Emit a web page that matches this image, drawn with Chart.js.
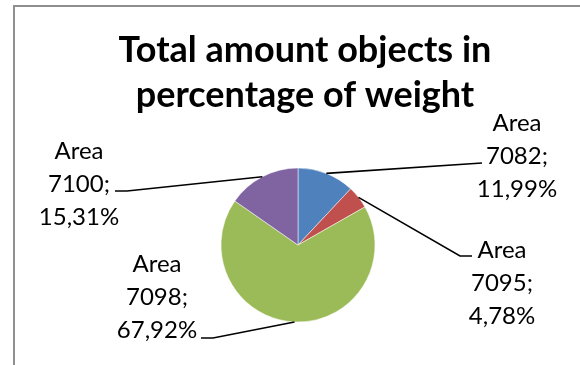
<!DOCTYPE html>
<html>
<head>
<meta charset="utf-8">
<script src="https://cdn.jsdelivr.net/npm/chart.js@4.4.1/dist/chart.umd.min.js"></script>
<style>
  html, body { margin: 0; padding: 0; background: #fff; }
  #wrap { position: relative; width: 580px; height: 365px; }
</style>
</head>
<body>
<div id="wrap"><canvas id="pie"></canvas></div>
<script>
// area numbers and their share of the total weight (%)
const areas = ["7082", "7095", "7098", "7100"];
const weightPct = [11.99, 4.78, 67.92, 15.31];
const sliceColors = ["#4f81bd", "#c0504d", "#9bbb59", "#8064a2"];
const titleLines = ["Total amount objects in", "percentage of weight"];

// label blocks: centre x, y of first line, leader end + optional short tail
const labelSpots = [
  { x: 517, y: 123, end: [482, 163], tail: null },
  { x: 502, y: 250, end: [460, 256], tail: [472, 256] },
  { x: 157, y: 264, end: [213, 338], tail: [201, 338] },
  { x: 79,  y: 151, end: [127, 191], tail: [115, 191] },
];

const FONT = "Lato, 'Open Sans', sans-serif";
const LINE_GAP = 33;

const fmtPct = (v) => v.toFixed(2).replace(".", ",") + "%";

const decorations = {
  id: "decorations",
  afterDraw(chart) {
    const ctx = chart.ctx;
    ctx.save();

    // chart frame (only top and left edges fall inside the canvas)
    ctx.strokeStyle = "#8f8f8f";
    ctx.lineWidth = 2;
    ctx.beginPath();
    ctx.moveTo(14, 366);
    ctx.lineTo(14, 6);
    ctx.lineTo(581, 6);
    ctx.stroke();

    // title
    ctx.fillStyle = "#000";
    ctx.textAlign = "center";
    ctx.textBaseline = "middle";
    ctx.font = "bold 36px " + FONT;
    ctx.fillText(titleLines[0], 305, 50);
    ctx.fillText(titleLines[1], 305, 95);

    // leader lines from slice edge to each label
    const meta = chart.getDatasetMeta(0);
    ctx.strokeStyle = "#000";
    ctx.lineWidth = 1.6;
    meta.data.forEach((arc, i) => {
      const spot = labelSpots[i];
      const mid = (arc.startAngle + arc.endAngle) / 2;
      const r = arc.outerRadius;
      ctx.beginPath();
      ctx.moveTo(arc.x + Math.cos(mid) * r, arc.y + Math.sin(mid) * r);
      ctx.lineTo(spot.end[0], spot.end[1]);
      if (spot.tail) ctx.lineTo(spot.tail[0], spot.tail[1]);
      ctx.stroke();
    });

    // data labels
    ctx.font = "24px " + FONT;
    areas.forEach((a, i) => {
      const spot = labelSpots[i];
      const lines = ["Area", a + ";", fmtPct(weightPct[i])];
      lines.forEach((t, k) => ctx.fillText(t, spot.x, spot.y + k * LINE_GAP));
    });

    ctx.restore();
  },
};

new Chart(document.getElementById("pie"), {
  type: "pie",
  data: {
    labels: areas.map((a) => "Area " + a),
    datasets: [
      {
        data: weightPct,
        backgroundColor: sliceColors,
        borderColor: "#ffffff",
        borderWidth: 0.5,
        radius: 77,
      },
    ],
  },
  options: {
    responsive: true,
    maintainAspectRatio: false,
    animation: false,
    layout: { padding: { left: 200, right: 184, top: 150, bottom: 25 } },
    plugins: {
      legend: { display: false },
      tooltip: { enabled: false },
      title: { display: false },
    },
  },
  plugins: [decorations],
});
</script>
</body>
</html>
